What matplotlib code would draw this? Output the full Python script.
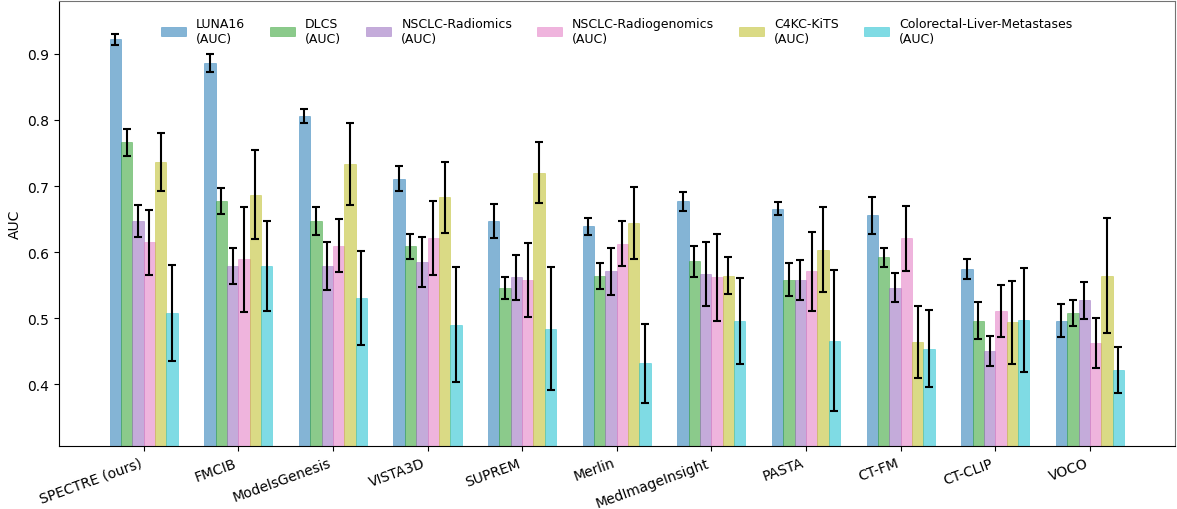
import numpy as np
import matplotlib
matplotlib.use("Agg")
import matplotlib.pyplot as plt

models = ["SPECTRE (ours)", "FMCIB", "ModelsGenesis", "VISTA3D", "SUPREM", "Merlin",
          "MedImageInsight", "PASTA", "CT-FM", "CT-CLIP", "VOCO"]
datasets = ["LUNA16", "DLCS", "NSCLC-Radiomics", "NSCLC-Radiogenomics", "C4KC-KiTS",
            "Colorectal-Liver-Metastases"]

# AUC per dataset (one value per model)
luna16 = [0.922, 0.886, 0.806, 0.711, 0.647, 0.639, 0.677, 0.666, 0.656, 0.574, 0.496]
dlcs = [0.766, 0.677, 0.647, 0.609, 0.546, 0.564, 0.586, 0.558, 0.592, 0.496, 0.508]
radiomics = [0.647, 0.579, 0.579, 0.585, 0.562, 0.571, 0.567, 0.558, 0.546, 0.450, 0.527]
radiogenomics = [0.615, 0.589, 0.610, 0.622, 0.558, 0.613, 0.562, 0.571, 0.621, 0.511, 0.463]
c4kc = [0.737, 0.687, 0.734, 0.683, 0.720, 0.644, 0.564, 0.604, 0.464, 0.494, 0.564]
crlm = [0.508, 0.579, 0.530, 0.490, 0.484, 0.432, 0.496, 0.466, 0.454, 0.497, 0.422]

# error bar half-widths
luna16_err = [0.008, 0.014, 0.010, 0.019, 0.026, 0.013, 0.014, 0.010, 0.028, 0.015, 0.025]
dlcs_err = [0.021, 0.020, 0.021, 0.019, 0.017, 0.020, 0.024, 0.025, 0.015, 0.028, 0.020]
radiomics_err = [0.024, 0.027, 0.037, 0.038, 0.034, 0.036, 0.048, 0.030, 0.022, 0.023, 0.028]
radiogenomics_err = [0.049, 0.079, 0.040, 0.056, 0.056, 0.034, 0.066, 0.060, 0.049, 0.040, 0.038]
c4kc_err = [0.044, 0.067, 0.062, 0.054, 0.046, 0.055, 0.028, 0.065, 0.055, 0.063, 0.087]
crlm_err = [0.073, 0.068, 0.071, 0.087, 0.093, 0.060, 0.065, 0.107, 0.058, 0.079, 0.035]

values = [luna16, dlcs, radiomics, radiogenomics, c4kc, crlm]
errors = [luna16_err, dlcs_err, radiomics_err, radiogenomics_err, c4kc_err, crlm_err]
colors = ["tab:blue", "tab:green", "tab:purple", "tab:pink", "tab:olive", "tab:cyan"]

fig, ax = plt.subplots(figsize=(11.77, 5.10), dpi=100)

x = np.arange(len(models))
width = 0.12
for i, (name, vals, errs, c) in enumerate(zip(datasets, values, errors, colors)):
    offset = (i - 2.5) * width
    ax.bar(x + offset, vals, width, yerr=errs, color=c, alpha=0.55,
           edgecolor=c, linewidth=0.5, label=f"{name}\n(AUC)",
           error_kw=dict(ecolor="black", elinewidth=1.5, capsize=3, capthick=1.5))

ax.set_ylim(0.307, 0.98)
ax.set_ylabel("AUC")
ax.set_xticks(x)
ax.set_xticklabels(models, rotation=20, ha="right")
ax.spines["top"].set_color("0.45")
ax.spines["right"].set_color("0.45")

leg = ax.legend(loc="upper center", ncol=6, frameon=False, fontsize=9,
                bbox_to_anchor=(0.5, 0.99))
for h in leg.legend_handles:
    h.set_alpha(0.55)

plt.subplots_adjust(left=0.050, right=0.998, top=0.996, bottom=0.124)
plt.savefig("out.png")
